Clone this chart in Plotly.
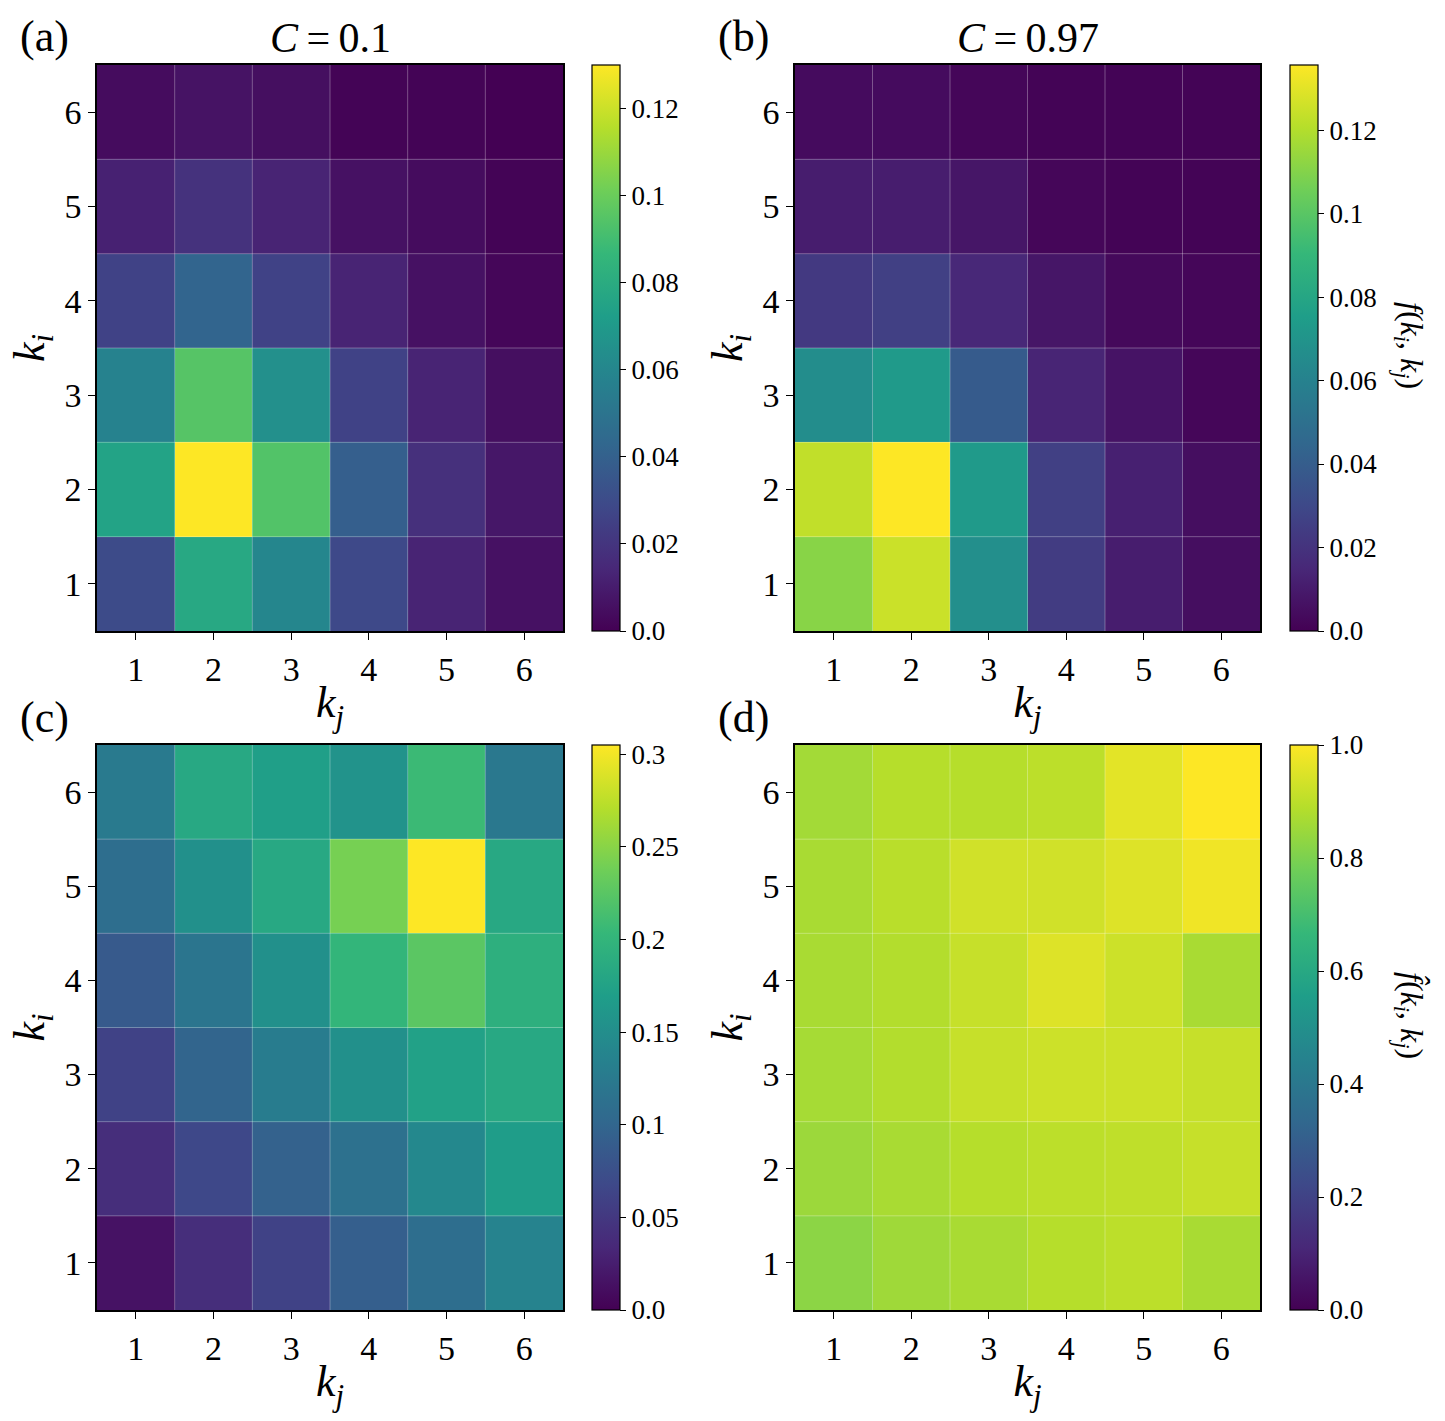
import plotly.graph_objects as go

W, H = 1445, 1421
FONT = "Liberation Serif"

k_vals = [1, 2, 3, 4, 5, 6]
tick_labels = ["1", "2", "3", "4", "5", "6"]

# rows: k_i = 1..6 (bottom to top), columns: k_j = 1..6
z_a = [
    [0.030, 0.078, 0.060, 0.029, 0.013, 0.006],
    [0.075, 0.130, 0.094, 0.039, 0.018, 0.008],
    [0.058, 0.095, 0.065, 0.026, 0.013, 0.005],
    [0.026, 0.042, 0.026, 0.013, 0.006, 0.002],
    [0.012, 0.019, 0.013, 0.006, 0.004, 0.001],
    [0.004, 0.0065, 0.005, 0.001, 0.001, 0.0],
]
z_b = [
    [0.111, 0.125, 0.067, 0.024, 0.011, 0.005],
    [0.123, 0.1356, 0.073, 0.026, 0.012, 0.005],
    [0.066, 0.073, 0.039, 0.014, 0.007, 0.002],
    [0.023, 0.026, 0.015, 0.008, 0.003, 0.002],
    [0.011, 0.011, 0.008, 0.002, 0.001, 0.001],
    [0.004, 0.004, 0.002, 0.001, 0.001, 0.001],
]
z_c = [
    [0.015, 0.040, 0.061, 0.092, 0.110, 0.137],
    [0.040, 0.067, 0.095, 0.113, 0.143, 0.168],
    [0.061, 0.098, 0.128, 0.153, 0.174, 0.183],
    [0.086, 0.119, 0.153, 0.201, 0.226, 0.192],
    [0.110, 0.153, 0.183, 0.241, 0.305, 0.183],
    [0.125, 0.183, 0.171, 0.156, 0.207, 0.122],
]
z_d = [
    [0.825, 0.855, 0.870, 0.890, 0.900, 0.870],
    [0.850, 0.870, 0.890, 0.900, 0.905, 0.915],
    [0.865, 0.885, 0.915, 0.925, 0.925, 0.915],
    [0.870, 0.885, 0.915, 0.950, 0.925, 0.870],
    [0.870, 0.895, 0.930, 0.930, 0.950, 0.980],
    [0.860, 0.890, 0.890, 0.900, 0.960, 1.000],
]

cb_a_ticks = [0.0, 0.02, 0.04, 0.06, 0.08, 0.1, 0.12]
cb_a_text = ["0.0", "0.02", "0.04", "0.06", "0.08", "0.1", "0.12"]
cb_c_ticks = [0.0, 0.05, 0.1, 0.15, 0.2, 0.25, 0.3]
cb_c_text = ["0.0", "0.05", "0.1", "0.15", "0.2", "0.25", "0.3"]
cb_d_ticks = [0.0, 0.2, 0.4, 0.6, 0.8, 1.0]
cb_d_text = ["0.0", "0.2", "0.4", "0.6", "0.8", "1.0"]

titles = ["<i>C</i>\u2009=\u20090.1", "<i>C</i>\u2009=\u20090.97", "", ""]
panel_labels = ["(a)", "(b)", "(c)", "(d)"]

# pixel layout
px_cols = [(97, 563), (795, 1260)]
px_rows = [(65, 631), (745, 1310)]
cb_left = [592, 1290]

panels = [
    (z_a, 0, 0, cb_a_ticks, cb_a_text),
    (z_b, 0, 1, cb_a_ticks, cb_a_text),
    (z_c, 1, 0, cb_c_ticks, cb_c_text),
    (z_d, 1, 1, cb_d_ticks, cb_d_text),
]

fig = go.Figure()
annotations = []
shapes = []

for idx, (z, r, c, cbt, cbtxt) in enumerate(panels):
    n = idx + 1
    xa = "x" if n == 1 else f"x{n}"
    ya = "y" if n == 1 else f"y{n}"
    x0, x1 = px_cols[c]
    y0, y1 = px_rows[r]
    zmax = max(max(row) for row in z)
    fig.add_trace(go.Heatmap(
        z=z, x=k_vals, y=k_vals, xaxis=xa, yaxis=ya,
        colorscale="Viridis", zmin=0, zmax=zmax,
        colorbar=dict(
            x=cb_left[c] / W, xanchor="left", xpad=0, ypad=0,
            y=1 - y0 / H, yanchor="top",
            len=(y1 - y0) / H, lenmode="fraction",
            thickness=28, thicknessmode="pixels",
            outlinewidth=1.2, outlinecolor="black",
            ticks="outside", ticklen=6, tickwidth=1.2, tickcolor="black",
            tickvals=cbt, ticktext=cbtxt,
            tickfont=dict(family=FONT, size=27, color="black"),
        ),
        hoverinfo="skip",
    ))
    axis_common = dict(
        range=[0.5, 6.5], showgrid=False, zeroline=False,
        showline=True, linecolor="black", linewidth=1.5, mirror=True,
        ticks="outside", ticklen=7, tickwidth=1.2, tickcolor="black",
        tickvals=k_vals, ticktext=tick_labels,
        tickfont=dict(family=FONT, size=34, color="black"),
    )
    fig.layout[("xaxis" if n == 1 else f"xaxis{n}")] = dict(
        axis_common, domain=[x0 / W, x1 / W], anchor=ya,
        title=dict(text="<i>k</i><sub><i>j</i></sub>",
                   font=dict(family=FONT, size=44, color="black"), standoff=0),
    )
    fig.layout[("yaxis" if n == 1 else f"yaxis{n}")] = dict(
        axis_common, domain=[1 - y1 / H, 1 - y0 / H], anchor=xa,
        title=dict(text="<i>k</i><sub><i>i</i></sub>",
                   font=dict(family=FONT, size=44, color="black"), standoff=6),
    )
    # faint cell boundary lines
    for b in range(1, len(k_vals)):
        pos = k_vals[0] - 0.5 + b
        shapes.append(dict(type="line", xref=xa, yref=ya, x0=pos, x1=pos, y0=0.5, y1=6.5,
                           line=dict(color="rgba(255,255,255,0.3)", width=1), layer="above"))
        shapes.append(dict(type="line", xref=xa, yref=ya, x0=0.5, x1=6.5, y0=pos, y1=pos,
                           line=dict(color="rgba(255,255,255,0.3)", width=1), layer="above"))
    # panel label
    annotations.append(dict(text=panel_labels[idx], xref="paper", yref="paper",
                            x=(x0 - 79) / W, y=1 - (y0 - 28) / H, xanchor="left", yanchor="middle",
                            showarrow=False, font=dict(family=FONT, size=44, color="black")))
    if titles[idx]:
        annotations.append(dict(text=titles[idx], xref="paper", yref="paper",
                                x=(x0 + x1) / 2 / W, y=1 - (y0 - 27) / H, xanchor="center", yanchor="middle",
                                showarrow=False, font=dict(family=FONT, size=42, color="black")))

# colorbar labels for right column
annotations.append(dict(text="<i>f</i>(<i>k</i><sub><i>i</i></sub>, <i>k</i><sub><i>j</i></sub>)",
                        xref="paper", yref="paper", x=1410 / W, y=1 - 345 / H,
                        xanchor="center", yanchor="middle", textangle=90, showarrow=False,
                        font=dict(family=FONT, size=32, color="black")))
annotations.append(dict(text="<i>f\u0302</i>(<i>k</i><sub><i>i</i></sub>, <i>k</i><sub><i>j</i></sub>)",
                        xref="paper", yref="paper", x=1410 / W, y=1 - 1015 / H,
                        xanchor="center", yanchor="middle", textangle=90, showarrow=False,
                        font=dict(family=FONT, size=32, color="black")))

fig.update_layout(
    width=W, height=H, margin=dict(l=0, r=0, t=0, b=0, pad=0),
    paper_bgcolor="white", plot_bgcolor="white",
    annotations=annotations, shapes=shapes, showlegend=False,
    font=dict(family=FONT, color="black"),
)

fig.write_html("out.html")
